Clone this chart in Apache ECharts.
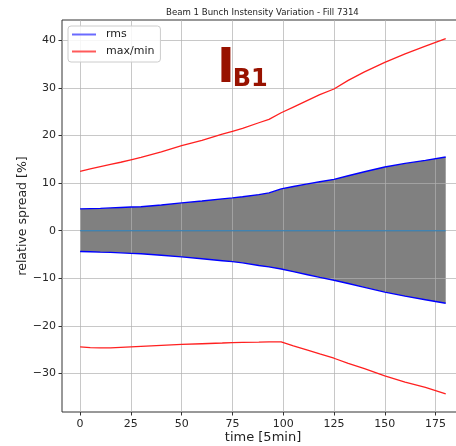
<!DOCTYPE html>
<html>
<head>
<meta charset="utf-8">
<script src="https://cdn.jsdelivr.net/npm/echarts@6/dist/echarts.min.js"></script>
<style>
  html, body { margin: 0; padding: 0; background: #fff; }
  #chart { width: 456px; height: 446px; }
</style>
</head>
<body>
<div id="chart"></div>
<script>
// Sample times (units of 5 minutes)
const times = [0, 5, 10, 15, 20, 25, 30, 40, 50, 60, 70, 75, 80, 88, 93, 99, 105, 112, 118, 125, 132, 140, 150, 160, 170, 180];
// rms spread, upper and lower envelope [%]
const rmsUpper = [4.6, 4.65, 4.7, 4.8, 4.9, 5.0, 5.05, 5.4, 5.85, 6.25, 6.7, 6.9, 7.15, 7.6, 7.95, 8.8, 9.3, 9.85, 10.3, 10.8, 11.55, 12.4, 13.4, 14.15, 14.8, 15.5];
const rmsLower = [-4.35, -4.4, -4.5, -4.55, -4.65, -4.75, -4.85, -5.15, -5.5, -5.9, -6.3, -6.5, -6.75, -7.3, -7.6, -8.05, -8.6, -9.25, -9.8, -10.4, -11.1, -11.9, -12.9, -13.75, -14.5, -15.25];
// max / min spread [%]
const maxSpread = [12.5, 13.0, 13.5, 13.95, 14.4, 14.9, 15.4, 16.6, 17.9, 19.0, 20.3, 20.9, 21.5, 22.7, 23.4, 24.8, 26.0, 27.4, 28.6, 29.8, 31.6, 33.4, 35.4, 37.2, 38.8, 40.4];
const minSpread = [-24.4, -24.55, -24.6, -24.6, -24.5, -24.4, -24.3, -24.1, -23.9, -23.75, -23.6, -23.5, -23.45, -23.4, -23.35, -23.35, -24.2, -25.1, -25.9, -26.8, -27.9, -29.0, -30.5, -31.8, -32.9, -34.3];
// reference (mean) line
const meanTimes = [0, 180];
const meanSpread = [0, 0];
// tick positions
const xTicks = [0, 25, 50, 75, 100, 125, 150, 175];
const yTicks = [-30, -20, -10, 0, 10, 20, 30, 40];

const pairs = (xs, ys) => xs.map((x, i) => [x, ys[i]]);
const FONT = 'DejaVu Sans';
const gridLine = { show: true, lineStyle: { color: 'rgba(176,176,176,0.7)', width: 1 } };
const minusFmt = v => (v < 0 ? '\u2212' + Math.abs(v) : String(v));

const chart = echarts.init(document.getElementById('chart'), null, { renderer: 'canvas' });
chart.setOption({
  animation: false,
  backgroundColor: '#ffffff',
  title: {
    text: 'Beam 1 Bunch Instensity Variation - Fill 7314',
    left: 166, top: 8.5, padding: 0,
    textStyle: { fontFamily: FONT, fontSize: 8.6, fontWeight: 'normal', color: '#222' }
  },
  legend: {
    data: [
      { name: 'rms', itemStyle: { color: '#6a6aff' } },
      { name: 'max/min', itemStyle: { color: '#ff5a5a' } }
    ],
    orient: 'vertical',
    left: 68, top: 26,
    padding: [3, 6, 5, 4],
    itemGap: 6,
    itemWidth: 24, itemHeight: 2,
    icon: 'rect',
    borderColor: '#cccccc', borderWidth: 1, borderRadius: 3,
    backgroundColor: 'rgba(255,255,255,0.85)',
    textStyle: { fontFamily: FONT, fontSize: 11, color: '#222', padding: [0, 0, 0, 5] },
    z: 5
  },
  grid: {
    left: 62, top: 20, right: -8, bottom: 34,
    outerBoundsMode: 'none',
    show: true, borderColor: '#333', borderWidth: 1, backgroundColor: 'transparent'
  },
  xAxis: {
    type: 'value', min: -8.9, max: 189, z: 1.5,
    axisLine: { show: false, onZero: false },
    axisTick: { show: true, length: 3.5, customValues: xTicks, lineStyle: { color: '#333' } },
    axisLabel: { customValues: xTicks, margin: 7, fontFamily: FONT, fontSize: 11, color: '#262626' },
    splitLine: gridLine,
    name: 'time [5min]', nameLocation: 'middle', nameGap: 19, nameMoveOverlap: false,
    nameTextStyle: { fontFamily: FONT, fontSize: 13, color: '#222' }
  },
  yAxis: {
    type: 'value', min: -38.1, max: 44.3, z: 1.5,
    axisLine: { show: false, onZero: false },
    axisTick: { show: true, length: 3.5, customValues: yTicks, lineStyle: { color: '#333' } },
    axisLabel: { customValues: yTicks, margin: 6, fontFamily: FONT, fontSize: 11, color: '#262626', formatter: minusFmt },
    splitLine: gridLine,
    name: 'relative spread [%]', nameLocation: 'middle', nameGap: 33, nameMoveOverlap: false,
    nameTextStyle: { fontFamily: FONT, fontSize: 12.5, color: '#222' }
  },
  series: [
    // grey rms band, filled to zero from each envelope
    { name: 'band+', type: 'line', data: pairs(times, rmsUpper), showSymbol: false, silent: true, z: 1,
      lineStyle: { width: 0 }, areaStyle: { color: '#808080', opacity: 1, origin: 0 } },
    { name: 'band-', type: 'line', data: pairs(times, rmsLower), showSymbol: false, silent: true, z: 1,
      lineStyle: { width: 0 }, areaStyle: { color: '#808080', opacity: 1, origin: 0 } },
    { name: 'rms', type: 'line', data: pairs(times, rmsUpper), showSymbol: false, z: 3,
      color: '#0000ff', lineStyle: { color: '#0000ff', width: 1.4 } },
    { name: 'rms', type: 'line', data: pairs(times, rmsLower), showSymbol: false, z: 3,
      color: '#0000ff', lineStyle: { color: '#0000ff', width: 1.4 } },
    { name: 'max/min', type: 'line', data: pairs(times, maxSpread), showSymbol: false, z: 3,
      color: '#ff0000', lineStyle: { color: '#ff2020', width: 1.3 } },
    { name: 'max/min', type: 'line', data: pairs(times, minSpread), showSymbol: false, z: 3,
      color: '#ff0000', lineStyle: { color: '#ff2020', width: 1.3 } },
    { name: 'mean', type: 'line', data: pairs(meanTimes, meanSpread), showSymbol: false, z: 3,
      lineStyle: { color: '#1f77b4', width: 1.2 } }
  ],
  graphic: [
    { type: 'text', left: 217, top: 46, z: 10,
      style: { text: 'I', fontFamily: FONT, fontWeight: 'bold', fontSize: 48, fill: '#981200' } },
    { type: 'text', left: 232.8, top: 67.5, z: 10,
      style: { text: 'B1', fontFamily: FONT, fontWeight: 'bold', fontSize: 24, fill: '#981200' } }
  ]
});
</script>
</body>
</html>
